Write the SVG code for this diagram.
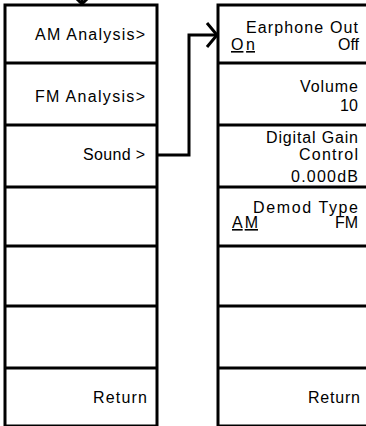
<svg xmlns="http://www.w3.org/2000/svg" width="366" height="426" viewBox="0 0 366 426">
<style>
.box{fill:#fff;stroke:#000;stroke-width:3}
.sep{stroke:#000;stroke-width:3}
.t{font-family:"Liberation Sans",Arial,sans-serif;font-size:16px;fill:#000}
.r{text-anchor:end}
.u{text-decoration:underline}
.con{fill:none;stroke:#000;stroke-width:3}
</style>
<rect width="366" height="426" fill="#fff"/>
<g id="left-menu">
<rect class="box" x="5" y="5" width="152" height="421"/>
<line class="sep" x1="5" y1="63" x2="157" y2="63"/>
<line class="sep" x1="5" y1="125" x2="157" y2="125"/>
<line class="sep" x1="5" y1="187" x2="157" y2="187"/>
<line class="sep" x1="5" y1="246" x2="157" y2="246"/>
<line class="sep" x1="5" y1="306" x2="157" y2="306"/>
<line class="sep" x1="5" y1="368" x2="157" y2="368"/>
</g>
<g id="am-analysis"><text class="t r" x="145" y="40" textLength="110" lengthAdjust="spacing">AM Analysis&gt;</text></g>
<g id="fm-analysis"><text class="t r" x="145" y="102" textLength="110" lengthAdjust="spacing">FM Analysis&gt;</text></g>
<g id="sound"><text class="t r" x="145" y="160" textLength="62" lengthAdjust="spacing">Sound &gt;</text></g>
<g id="return-left"><text class="t r" x="147" y="403" textLength="54" lengthAdjust="spacing">Return</text></g>
<g id="right-menu">
<rect class="box" x="218" y="5" width="152" height="421"/>
<line class="sep" x1="218" y1="63" x2="370" y2="63"/>
<line class="sep" x1="218" y1="125" x2="370" y2="125"/>
<line class="sep" x1="218" y1="187" x2="370" y2="187"/>
<line class="sep" x1="218" y1="246" x2="370" y2="246"/>
<line class="sep" x1="218" y1="306" x2="370" y2="306"/>
<line class="sep" x1="218" y1="368" x2="370" y2="368"/>
</g>
<g id="earphone-out">
<text class="t r" x="358" y="33" textLength="112" lengthAdjust="spacing">Earphone Out</text>
<text class="t u" x="231" y="50" textLength="24" lengthAdjust="spacing">On</text>
<text class="t r" x="359" y="50" textLength="21" lengthAdjust="spacingAndGlyphs">Off</text>
</g>
<g id="volume">
<text class="t r" x="358" y="92" textLength="58" lengthAdjust="spacing">Volume</text>
<text class="t r" x="358" y="111" textLength="18" lengthAdjust="spacing">10</text>
</g>
<g id="digital-gain">
<text class="t r" x="358" y="143" textLength="92" lengthAdjust="spacing">Digital Gain</text>
<text class="t r" x="358" y="160" textLength="59" lengthAdjust="spacing">Control</text>
<text class="t r" x="358" y="182" textLength="67" lengthAdjust="spacing">0.000dB</text>
</g>
<g id="demod-type">
<text class="t r" x="358" y="213" textLength="105" lengthAdjust="spacing">Demod Type</text>
<text class="t u" x="232" y="228" textLength="26" lengthAdjust="spacing">AM</text>
<text class="t r" x="358" y="228" textLength="23" lengthAdjust="spacing">FM</text>
</g>
<g id="return-right"><text class="t r" x="360" y="403" textLength="52" lengthAdjust="spacing">Return</text></g>
<g id="connectors">
<polyline class="con" points="157,155 189,155 189,35 216,35"/>
<polyline class="con" points="207,23 217,35 207,47"/>
<polyline class="con" points="76,-2 82,4 88,-2"/>
<line class="con" x1="82" y1="-5" x2="82" y2="4"/>
</g>
</svg>
